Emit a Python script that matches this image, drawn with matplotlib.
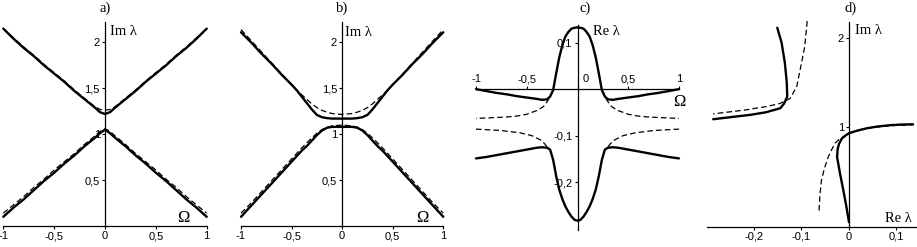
import matplotlib
matplotlib.use('Agg')
import matplotlib.pyplot as plt
import matplotlib.transforms as mtransforms

plt.rcParams['font.family'] = 'Liberation Sans'
plt.rcParams['font.size'] = 8

W, H = 917, 247

# --- panel a: Im(lambda) vs Omega (half curves, mirrored about Omega = 0)
om_a = [0, 0.05, 0.1, 0.2, 0.3, 0.4, 0.5, 0.6, 0.7, 0.8, 0.9, 1.0]
a_up_solid = [1.22, 1.24, 1.29, 1.38, 1.47, 1.57, 1.66, 1.75, 1.85, 1.94, 2.04, 2.15]
a_up_dash = [1.26, 1.27, 1.30, 1.39, 1.48, 1.58, 1.67, 1.76, 1.86, 1.95, 2.05, 2.15]
a_lo_solid = [1.05, 1.01, 0.96, 0.87, 0.77, 0.68, 0.58, 0.49, 0.39, 0.29, 0.20, 0.10]
a_lo_dash = [1.06, 1.03, 0.98, 0.89, 0.79, 0.70, 0.61, 0.51, 0.42, 0.32, 0.23, 0.14]

# --- panel b
om_b = [0, 0.1, 0.15, 0.2, 0.25, 0.3, 0.35, 0.4, 0.45, 0.5, 0.6, 0.7, 0.8, 0.9, 1.0]
b_up_solid = [1.17, 1.17, 1.175, 1.185, 1.21, 1.27, 1.34, 1.41, 1.48, 1.54, 1.65, 1.77, 1.88, 2.00, 2.11]
b_up_dash = [1.215, 1.225, 1.24, 1.26, 1.29, 1.33, 1.38, 1.43, 1.48, 1.54, 1.66, 1.78, 1.90, 2.02, 2.14]
b_lo_solid = [1.08, 1.08, 1.07, 1.04, 0.99, 0.93, 0.87, 0.82, 0.76, 0.70, 0.58, 0.46, 0.34, 0.22, 0.10]
b_lo_dash = [1.10, 1.09, 1.075, 1.05, 1.01, 0.96, 0.905, 0.85, 0.79, 0.73, 0.61, 0.49, 0.37, 0.25, 0.14]

# --- panel c: Re(lambda) vs Omega
om_c = [0, 0.03, 0.06, 0.09, 0.12, 0.15, 0.18, 0.21, 0.24, 0.27, 0.3, 0.35, 0.4, 0.5, 0.6, 0.7, 0.8, 0.9, 1.0]
c_up_solid = [0.133, 0.132, 0.130, 0.123, 0.113, 0.094, 0.068, 0.034, -0.002, -0.016, -0.022, -0.023,
              -0.021, -0.018, -0.015, -0.011, -0.008, -0.004, 0.0]
c_lo_solid = [-0.283, -0.281, -0.274, -0.264, -0.252, -0.236, -0.216, -0.187, -0.152, -0.130, -0.126,
              -0.125, -0.126, -0.130, -0.134, -0.138, -0.142, -0.146, -0.149]
om_c_dash_up = [0.28, 0.3, 0.335, 0.4, 0.5, 0.6, 0.7, 0.8, 0.9, 1.0]
c_up_dash = [-0.020, -0.027, -0.0375, -0.046, -0.054, -0.058, -0.060, -0.061, -0.062, -0.063]
om_c_dash_lo = [0.3, 0.33, 0.367, 0.45, 0.565, 0.75, 1.0]
c_lo_dash = [-0.124, -0.116, -0.109, -0.100, -0.094, -0.089, -0.086]

# --- panel d: Im(lambda) vs Re(lambda)
d_left_solid_re = [-0.151, -0.142, -0.135, -0.131, -0.130, -0.137, -0.145, -0.175, -0.208, -0.25, -0.286]
d_left_solid_im = [2.115, 1.95, 1.72, 1.50, 1.34, 1.26, 1.21, 1.165, 1.136, 1.11, 1.087]
d_left_dash_re = [-0.088, -0.093, -0.103, -0.110, -0.124, -0.145, -0.173, -0.22, -0.286]
d_left_dash_im = [2.19, 1.91, 1.64, 1.455, 1.32, 1.265, 1.23, 1.19, 1.147]
d_right_solid_re = [0.0, -0.006, -0.012, -0.019, -0.025, -0.024, -0.021, -0.015, -0.007, 0.0,
                    0.015, 0.037, 0.06, 0.086, 0.11, 0.135]
d_right_solid_im = [-0.07, 0.12, 0.29, 0.48, 0.66, 0.75, 0.81, 0.87, 0.905, 0.93,
                    0.955, 0.985, 1.005, 1.02, 1.027, 1.03]
d_right_dash_re = [-0.063, -0.061, -0.058, -0.052, -0.044, -0.036, -0.029, -0.02, -0.012, 0.0,
                   0.02, 0.05, 0.09, 0.135]
d_right_dash_im = [0.06, 0.25, 0.40, 0.53, 0.66, 0.75, 0.82, 0.865, 0.89, 0.93,
                   0.965, 0.995, 1.015, 1.025]

SOLID = dict(color='black', lw=1.7, solid_capstyle='round', clip_on=False, zorder=3)
DASH = dict(color='black', lw=0.9, ls=(0, (4.5, 2.5)), clip_on=False, zorder=2)
SERIF = dict(family='Liberation Serif', fontsize=10.5)
OMEGA = dict(family='Liberation Serif', fontsize=12)


def mirror(om, vals):
    x = [-o for o in om[:0:-1]] + list(om)
    y = list(vals[:0:-1]) + list(vals)
    return x, y


def addAxes(fig, x0, x1, ytop, ybot):
    return fig.add_axes([x0 / W, 1 - ybot / H, (x1 - x0) / W, (ybot - ytop) / H])


def styleAxes(ax, xticks, xlabels, yticks, ylabels, xOnTop=False):
    ax.set_facecolor('none')
    ax.spines['right'].set_visible(False)
    ax.spines['left'].set_position(('data', 0))
    if xOnTop:
        ax.spines['bottom'].set_visible(False)
        ax.spines['top'].set_position(('data', 0))
        ax.xaxis.set_ticks_position('top')
    else:
        ax.spines['top'].set_visible(False)
    for s in ax.spines.values():
        s.set_linewidth(0.9)
    ax.set_xticks(xticks)
    ax.set_xticklabels(xlabels)
    ax.set_yticks(yticks)
    ax.set_yticklabels(ylabels)
    ax.tick_params(length=2.2, width=0.8, pad=1.5, labelsize=8)


fig = plt.figure(figsize=(W / 100, H / 100), dpi=100)

omTicks = [-1, -0.5, 0, 0.5, 1]
omLabels = ['-1', '-0,5', '0', '0,5', '1']

# panel a
ax = addAxes(fig, 3.3, 206.7, 22, 226)
ax.set_xlim(-1, 1)
ax.set_ylim(0, 2.222)
for vals in (a_up_dash, a_lo_dash):
    ax.plot(*mirror(om_a, vals), **DASH)
for vals in (a_up_solid, a_lo_solid):
    ax.plot(*mirror(om_a, vals), **SOLID)
styleAxes(ax, omTicks, omLabels, [0.5, 1, 1.5, 2], ['0,5', '1', '1,5', '2'])
ax.text(0.05, 2.12, 'Im λ', va='center', ha='left', **SERIF)
ax.text(0.77, 0.09, 'Ω', va='center', ha='center', **OMEGA)

# panel b
ax = addAxes(fig, 241, 443.3, 22, 226)
ax.set_xlim(-1, 1)
ax.set_ylim(0, 2.222)
for vals in (b_up_dash, b_lo_dash):
    ax.plot(*mirror(om_b, vals), **DASH)
for vals in (b_up_solid, b_lo_solid):
    ax.plot(*mirror(om_b, vals), **SOLID)
styleAxes(ax, omTicks, omLabels, [0.5, 1, 1.5, 2], ['0,5', '1', '1,5', '2'])
ax.text(0.03, 2.11, 'Im λ', va='center', ha='left', **SERIF)
ax.text(0.79, 0.09, 'Ω', va='center', ha='center', **OMEGA)

# panel c
ax = addAxes(fig, 476, 679, 25, 230)
ax.set_xlim(-1, 1)
ax.set_ylim(-0.303, 0.138)
for om, vals in ((om_c_dash_up, c_up_dash), (om_c_dash_lo, c_lo_dash)):
    ax.plot(om, vals, **DASH)
    ax.plot([-o for o in om], vals, **DASH)
for vals in (c_up_solid, c_lo_solid):
    ax.plot(*mirror(om_c, vals), **SOLID)
styleAxes(ax, omTicks, omLabels, [-0.2, -0.1, 0.1], ['-0,2', '-0,1', '0,1'], xOnTop=True)
zeroLabel = ax.get_xticklabels()[2]
zeroLabel.set_transform(zeroLabel.get_transform() +
                        mtransforms.ScaledTranslation(0.08, 0, fig.dpi_scale_trans))
ax.text(0.153, 0.123, 'Re λ', va='center', ha='left', **SERIF)
ax.text(1.0, -0.027, 'Ω', va='center', ha='center', **OMEGA)

# panel d
ax = addAxes(fig, 706.7, 917, 22, 226.6)
ax.set_xlim(-0.2996, 0.1432)
ax.set_ylim(-0.12, 2.18)
ax.plot(d_left_dash_re, d_left_dash_im, **DASH)
ax.plot(d_right_dash_re, d_right_dash_im, **DASH)
ax.plot(d_left_solid_re, d_left_solid_im, **SOLID)
ax.plot(d_right_solid_re, d_right_solid_im, **SOLID)
styleAxes(ax, [-0.2, -0.1, 0, 0.1], ['-0,2', '-0,1', '0', '0,1'], [1, 2], ['1', '2'])
ax.text(0.013, 2.09, 'Im λ', va='center', ha='left', **SERIF)
ax.text(0.076, -0.024, 'Re λ', va='center', ha='left', **SERIF)

# panel titles
for label, x in (('a)', 105), ('b)', 342), ('c)', 585), ('d)', 851)):
    fig.text(x / W, 1 - 8 / H, label, ha='center', va='center', **SERIF)

fig.savefig('out.png', dpi=100)
